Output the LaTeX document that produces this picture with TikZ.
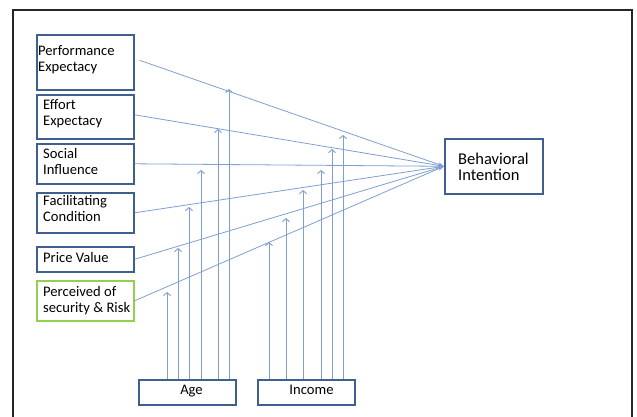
\documentclass[tikz,border=0pt]{standalone}
\usepackage{fontspec}
\newfontfamily\calib{Carlito}
\usetikzlibrary{arrows.meta,calc}
\definecolor{boxblue}{HTML}{3F5F8F}
\definecolor{lineblue}{HTML}{7F9FD0}
\definecolor{boxgreen}{HTML}{92D050}
\begin{document}
\begin{tikzpicture}[x=1pt,y=-1pt,
 factor/.style={draw=boxblue, line width=1.6pt, inner sep=0pt, anchor=north west, minimum width=97pt},
 txt/.style={font=\calib\fontsize{14.6}{16}\selectfont, align=left, inner sep=0pt, anchor=north west},
 toBI/.style={draw=lineblue, line width=0.8pt, -{Stealth[length=6pt,width=4pt]}},
 mod/.style={draw=lineblue, line width=0.9pt, -{Straight Barb[length=3pt,width=7pt]}}]
\useasboundingbox (0,0) rectangle (637,417);
\draw[line width=2pt, black!85] (13,417) -- (13,10) -- (632,10) -- (632,417);
% boxes
\node[factor, minimum height=55pt] (pe) at (36,34) {};
\node[factor, minimum height=44pt] (ee) at (36,94) {};
\node[factor, minimum height=40pt] (si) at (36,143) {};
\node[factor, minimum height=40pt] (fc) at (36,192) {};
\node[factor, minimum height=25pt] (pv) at (36,246) {};
\node[factor, draw=boxgreen, minimum height=40pt] (psr) at (36,280) {};
\node[factor, minimum height=25pt] (age) at (138,379) {};
\node[factor, minimum height=25pt] (inc) at (257,379) {};
\node[factor, minimum width=98pt, minimum height=55pt] (bi) at (444,138) {};
% texts
\node[txt] (tpe) at (38,45.5) {Performance\\Expectacy};
\node[txt] (tee) at (43,99) {Effort\\Expectacy};
\node[txt] (tsi) at (43,148) {Social\\Influence};
\node[txt] (tfc) at (43,195) {Facilitating\\Condition};
\node[txt] (tpv) at (43,252) {Price Value};
\node[txt] (tpsr) at (43,286) {Perceived of\\security \& Risk};
\node[txt, anchor=base] (tage) at (191.5,394) {Age};
\node[txt, anchor=base] (tinc) at (311.5,394) {Income};
\node[txt, font=\calib\fontsize{16.5}{16.5}\selectfont] (tbi) at (458,152.5) {Behavioral\\Intention};
% lines to BI
\draw[toBI] ([shift={(5,-2)}]pe.east) -- (bi.west);
\draw[toBI] ([shift={(0,-2)}]ee.east) -- (bi.west);
\draw[toBI] (si.east) -- (bi.west);
\draw[toBI] (fc.east) -- (bi.west);
\draw[toBI] (pv.east) -- (bi.west);
\draw[toBI] (psr.east) -- (bi.west);
% moderators
\foreach \x/\y in {167/292,178/248,189/207,201/170,218/129,229/89}
  \draw[mod] (age.north -| \x,0) -- (\x,\y);
\foreach \x/\y in {269/242,286/218,303/190,321/170,332/149,343/135}
  \draw[mod] (inc.north -| \x,0) -- (\x,\y);
\end{tikzpicture}
\end{document}
